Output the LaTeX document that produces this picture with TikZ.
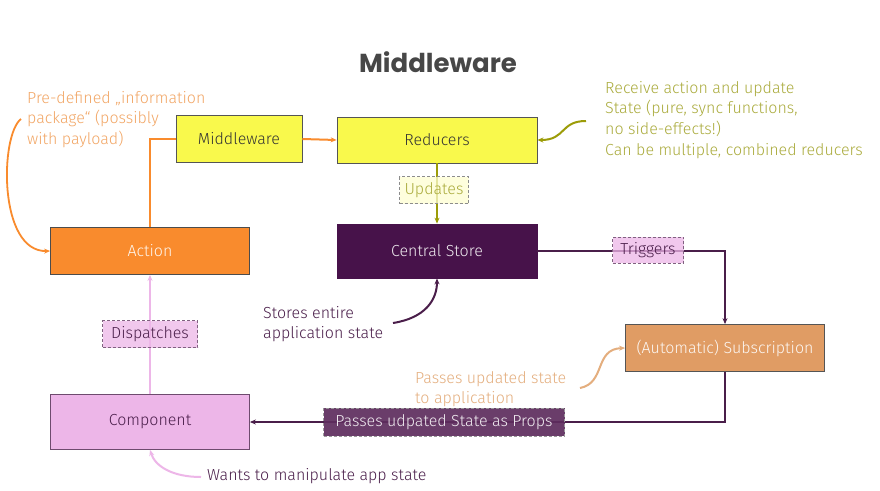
\documentclass[tikz,border=0pt]{standalone}
\usepackage{fontspec}
\setmainfont{Fira Sans Light}
\newfontfamily\titlefont{Poppins}
\usetikzlibrary{arrows.meta}
\definecolor{ylw}{HTML}{F9F94C}
\definecolor{orng}{HTML}{F98B2D}
\definecolor{orngtxt}{HTML}{F2A665}
\definecolor{plum}{HTML}{47124A}
\definecolor{plumtxt}{HTML}{4A1E4A}
\definecolor{tan}{HTML}{E09C64}
\definecolor{tantxt}{HTML}{E4AE7E}
\definecolor{pink}{HTML}{EDB6E8}
\definecolor{olive}{HTML}{9C9C08}
\definecolor{olivetxt}{HTML}{AAAB3C}
\definecolor{bordergrey}{HTML}{555555}
\definecolor{passfill}{HTML}{5E2D5E}
\tikzset{
  box/.style={draw=bordergrey, line width=0.8pt, inner sep=0pt, font=\fontsize{16}{19}\selectfont},
  tag/.style={densely dashed, line width=0.5pt, inner sep=0pt, font=\fontsize{16}{19}\selectfont, fill opacity=0.75, text opacity=1},
  note/.style={align=left, inner sep=0pt, anchor=north west, font=\fontsize{16}{20.6}\selectfont},
  tip/.style={-{Stealth[length=6pt,width=5pt]}},
}
\begin{document}
\begin{tikzpicture}[x=1pt,y=-1pt]
\useasboundingbox (0,0) rectangle (880,490);
\fill[white] (0,0) rectangle (880,490);

\node[font=\titlefont\bfseries\fontsize{26}{30}\selectfont, text=black!72] (title) at (438,62) {Middleware};

% boxes
\node[box, fill=ylw, minimum width=126pt, minimum height=47pt, text=black!80] (mw) at (239,139) {Middleware};
\node[box, fill=ylw, minimum width=200pt, minimum height=46pt, text=black!80] (red) at (437,140) {Reducers};
\node[box, fill=orng, draw=black!70, minimum width=199pt, minimum height=47pt, text=white!92!orng] (act) at (150,251) {Action};
\node[box, fill=plum, draw=plum, minimum width=200pt, minimum height=54pt, text=white!92!plum] (cs) at (437,251) {Central Store};
\node[box, fill=tan, minimum width=199pt, minimum height=47pt, text=white!92!tan] (sub) at (725,348) {(Automatic) Subscription};
\node[box, fill=pink, draw=plumtxt!80, minimum width=199pt, minimum height=55pt, text=plumtxt] (comp) at (150,422) {Component};

% connectors
\draw[orng, line width=2pt] (act.north) |- (mw.west);
\draw[orng, line width=2pt, tip] (mw.east) -- (red.west);
\draw[olive, line width=2.5pt, tip] (red.south) -- (cs.north);
\draw[plumtxt, line width=2pt, tip] (cs.east) -| (sub.north);
\draw[plumtxt, line width=2pt, tip] (sub.south) |- (comp.east);
\draw[pink, line width=2.8pt, tip] (comp.north) -- (act.south);

% tags on connectors
\node[tag, draw=black!45, fill=ylw!25, minimum width=69pt, minimum height=27pt, text=olivetxt] (upd) at (434,190) {Updates};
\node[tag, draw=plumtxt!70, fill=pink, minimum width=71pt, minimum height=26pt, text=plumtxt] (trg) at (648,250) {Triggers};
\node[tag, draw=plumtxt!70, fill=pink, minimum width=95pt, minimum height=27pt, text=plumtxt] (dsp) at (150,334) {Dispatches};
\node[tag, draw=black!40, fill=passfill, fill opacity=0.92, minimum width=241pt, minimum height=28pt, text=white!92!passfill] (pass) at (444,422) {Passes udpated State as Props};

% annotations
\node[note, text=orngtxt] (n1) at (27,91) {Pre-defined „information\\package“ (possibly\\with payload)};
\coordinate (n1s) at (21,119);
\draw[orng, line width=1.8pt, tip] (n1s) .. controls (0,135) and (-2,252) .. (act.west);

\node[note, text=olivetxt] (n2) at (605,81) {Receive action and update\\State (pure, sync functions,\\no side-effects!)\\Can be multiple, combined reducers};
\coordinate (n2s) at (586,121);
\draw[olive, line width=2pt, tip] (n2s) .. controls (560,121) and (566,140) .. (red.east);

\node[note, text=plumtxt] (n3) at (263,306) {Stores entire\\application state};
\coordinate (n3s) at (393,323);
\draw[plumtxt, line width=2pt, tip] (n3s) .. controls (425,318) and (437,300) .. (cs.south);

\node[note, text=tantxt] (n4) at (415,371) {Passes updated state\\to application};
\coordinate (n4s) at (580,388);
\draw[tantxt, line width=2pt, tip] (n4s) .. controls (606,383) and (594,349) .. (sub.west);

\node[note, anchor=west, text=plumtxt] (n5) at (207,476) {Wants to manipulate app state};
\coordinate (n5s) at (201,477);
\draw[pink, line width=2pt, tip] (n5s) .. controls (172,477) and (155,466) .. (comp.south);
\end{tikzpicture}
\end{document}
